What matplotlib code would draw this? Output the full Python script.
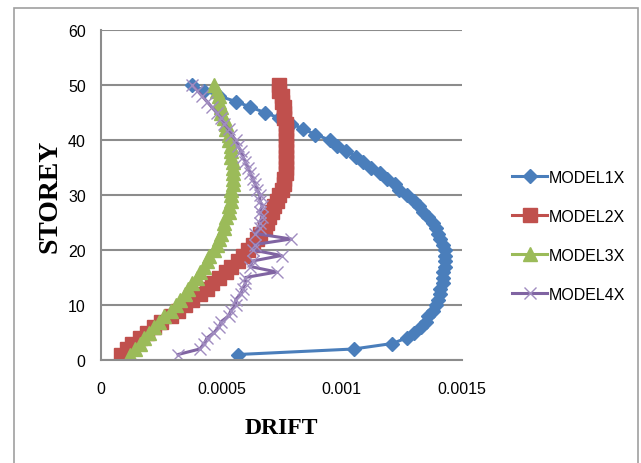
import numpy as np
import matplotlib
matplotlib.use("Agg")
import matplotlib.pyplot as plt
from matplotlib.patches import Rectangle

# ==== data ====
storey = list(range(1, 51))

model1x = [0.00057, 0.00105, 0.00121, 0.00127, 0.00130, 0.00133, 0.00135, 0.00136, 0.00138, 0.00139,
           0.00140, 0.00141, 0.00141, 0.00142, 0.00142, 0.00142, 0.00143, 0.00143, 0.00143, 0.00143,
           0.00142, 0.00141, 0.00140, 0.00139, 0.00138, 0.00136, 0.00134, 0.00132, 0.00130, 0.00127,
           0.00124, 0.00122, 0.00119, 0.00116, 0.00112, 0.00109, 0.00106, 0.00102, 0.00098, 0.00095,
           0.00089, 0.00084, 0.00079, 0.00074, 0.00068, 0.00062, 0.00056, 0.00049, 0.00043, 0.00038]

model2x = [0.000085, 0.00011, 0.00013, 0.00016, 0.00019, 0.00022, 0.00025, 0.00029, 0.00032, 0.00035,
           0.00038, 0.00041, 0.00044, 0.00046, 0.00049, 0.00052, 0.00054, 0.00057, 0.00059, 0.00061,
           0.00063, 0.00065, 0.00066, 0.00068, 0.00069, 0.00070, 0.00071, 0.00072, 0.00073, 0.00074,
           0.00075, 0.00076, 0.00076, 0.00077, 0.00077, 0.00077, 0.00077, 0.00077, 0.00077, 0.00077,
           0.00077, 0.00077, 0.00077, 0.00076, 0.00076, 0.00076, 0.00075, 0.00075, 0.00074, 0.00074]

model3x = [0.00012, 0.00014, 0.00016, 0.00018, 0.00020, 0.00022, 0.00024, 0.00026, 0.00029, 0.00031,
           0.00033, 0.00035, 0.00036, 0.00038, 0.00040, 0.00041, 0.00043, 0.00044, 0.00045, 0.00047,
           0.00048, 0.00049, 0.00050, 0.00051, 0.00051, 0.00052, 0.00053, 0.00053, 0.00054, 0.00054,
           0.00054, 0.00055, 0.00055, 0.00055, 0.00055, 0.00055, 0.00054, 0.00054, 0.00054, 0.00053,
           0.00053, 0.00052, 0.00052, 0.00051, 0.00050, 0.00050, 0.00049, 0.00049, 0.00048, 0.00047]

model4x = [0.00032, 0.00041, 0.00043, 0.00044, 0.00047, 0.00049, 0.00050, 0.00053, 0.00054, 0.00056,
           0.00056, 0.00058, 0.00059, 0.00060, 0.00060, 0.00073, 0.00062, 0.00063, 0.00075, 0.00063,
           0.00064, 0.00079, 0.00064, 0.00066, 0.00066, 0.00067, 0.00066, 0.00067, 0.00066, 0.00066,
           0.00065, 0.00064, 0.00063, 0.00062, 0.00061, 0.00060, 0.00059, 0.00058, 0.00057, 0.00056,
           0.00054, 0.00053, 0.00051, 0.00050, 0.00048, 0.00046, 0.00044, 0.00042, 0.00040, 0.00038]

labels = ["MODEL1X", "MODEL2X", "MODEL3X", "MODEL4X"]
xticks = [0, 0.0005, 0.001, 0.0015]
xtick_labels = ["0", "0.0005", "0.001", "0.0015"]
yticks = [0, 10, 20, 30, 40, 50, 60]

# ==== plot ====
sans = ["Liberation Sans", "DejaVu Sans"]
serif = ["Liberation Serif", "DejaVu Serif"]

fig = plt.figure(figsize=(6.41, 4.64), dpi=100)
ax = fig.add_axes([101 / 641, 1 - 361 / 464, 361 / 641, 330 / 464])

ax.plot(model1x, storey, color="#4A7EBB", marker="D", ms=7.5, lw=2.2, label=labels[0])
ax.plot(model2x, storey, color="#C0504D", marker="s", ms=9.5, lw=2.2, label=labels[1])
ax.plot(model3x, storey, color="#9BBB59", marker="^", ms=10, lw=2.2, label=labels[2])
ax.plot(model4x, storey, color="#8064A2", marker="x", ms=8, mew=1, mec="#A08CC0",
        lw=2.2, label=labels[3])

ax.set_xlim(0, 0.0015)
ax.set_ylim(0, 60)
ax.set_xticks(xticks)
ax.set_xticklabels(xtick_labels)
ax.set_yticks(yticks)
ax.grid(axis="y", color="#8C8C8C", lw=1.5)
ax.set_axisbelow(True)
for s in ["top", "right"]:
    ax.spines[s].set_visible(False)
for s in ["left", "bottom"]:
    ax.spines[s].set_color("#8C8C8C")
    ax.spines[s].set_linewidth(1.5)
ax.tick_params(length=0)
ax.tick_params(axis="x", pad=15)
ax.tick_params(axis="y", pad=11)
for t in ax.get_xticklabels() + ax.get_yticklabels():
    t.set_family(sans)
    t.set_fontsize(11.5)

ax.set_xlabel("DRIFT", family=serif, fontweight="bold", fontsize=17, labelpad=15)
ax.set_ylabel("STOREY", family=serif, fontweight="bold", fontsize=20, labelpad=4)

leg = ax.legend(loc="center left", bbox_to_anchor=(512 / 641, 1 - 237 / 464),
                bbox_transform=fig.transFigure, frameon=False, borderpad=0, borderaxespad=0,
                handlelength=2.2, handletextpad=0.1, labelspacing=1.5,
                prop={"family": sans, "size": 11.5})

# outer chart border
fig.patches.append(Rectangle((14 / 641, -0.05), 624 / 641, 1.05 - 9 / 464,
                             transform=fig.transFigure, fill=False,
                             edgecolor="#A0A0A0", lw=1.2))

fig.savefig("out.png", dpi=100)
